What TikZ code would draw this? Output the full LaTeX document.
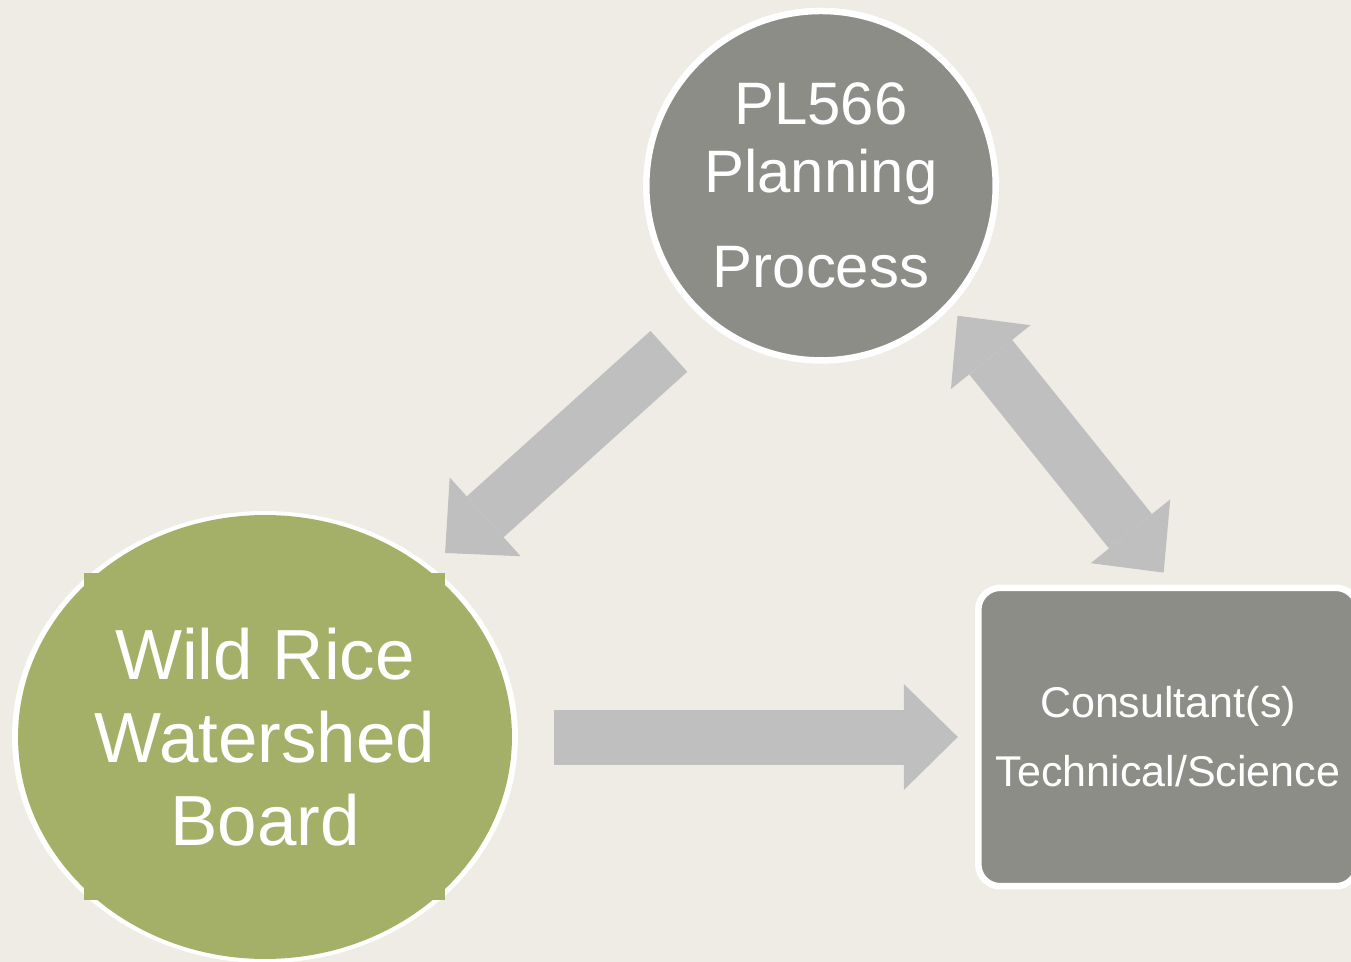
\documentclass[tikz,border=0pt]{standalone}
\usepackage{fontspec}
\setmainfont{Liberation Sans}
\usepackage{xcolor}
\usetikzlibrary{shapes.geometric}
\usetikzlibrary{arrows.meta}
\definecolor{paper}{RGB}{238, 236, 228}
\definecolor{stone}{RGB}{140, 141, 134}
\definecolor{rice}{RGB}{164, 176, 104}
\definecolor{flowgray}{RGB}{191, 191, 191}
\tikzstyle{planface} = [
	circle,
	draw=white,
	line width=0.13cm,
	fill=stone,
	minimum size=6.99cm,
	inner sep=0pt,
	outer sep=0pt,
	text=white,
	align=center,
	font=\fontsize{34.1}{38.7}\selectfont
]
\tikzstyle{boardface} = [
	ellipse,
	fill=rice,
	minimum width=9.88cm,
	minimum height=8.88cm,
	inner sep=0pt,
	outer sep=0pt,
	text=white,
	align=center,
	font=\fontsize{40.4}{47.2}\selectfont
]
\tikzstyle{consface} = [
	rectangle,
	rounded corners=0.44cm,
	draw=white,
	line width=0.13cm,
	fill=stone,
	minimum width=7.59cm,
	minimum height=5.97cm,
	inner sep=0pt,
	outer sep=0pt,
	text=white,
	align=center,
	font=\fontsize{24.5}{39.3}\selectfont
]
\tikzstyle{flow} = [
	draw=flowgray,
	line width=1.1cm,
	-{Triangle[length=1.08cm, width=2.12cm, line width=0pt]}
]
\tikzstyle{twoway} = [
	draw=flowgray,
	line width=1.1cm,
	{Triangle[length=1.06cm, width=2.04cm, line width=0pt]}-{Triangle[length=1.06cm, width=2.04cm, line width=0pt]}
]

\begin{document}
\begin{tikzpicture}[x=0.02cm, y=-0.02cm]

	\useasboundingbox (0,0) rectangle (1351,962);
	\clip (0,0) rectangle (1351,962);
	\fill[paper] (0,0) rectangle (1351,962);

	% Planning process
	\node[planface] (plan) at (821,185.7) {PL566\\Planning\\[15.4pt]Process};

	% Watershed board
	\fill[white] (265,737) ellipse [x radius=5.06cm, y radius=4.52cm];
	\fill[rice] (84,573) rectangle (445,900);
	\node[boardface] (wrb) at (265,737) {Wild Rice\\Watershed\\Board};

	% Consultants
	\node[consface] (cons) at (1168,737) {Consultant(s)\\Technical/Science};

	% Arrows
	\draw[flow, shorten <=1.01cm, shorten >=0.49cm] (plan.229) -- (wrb.46);
	\draw[flow, shorten <=0.84cm, shorten >=0.41cm] (wrb.east) -- (cons.west);
	\draw[twoway, shorten <=0.28cm, shorten >=0.39cm] (plan.317) -- (cons.87);

\end{tikzpicture}
\end{document}
